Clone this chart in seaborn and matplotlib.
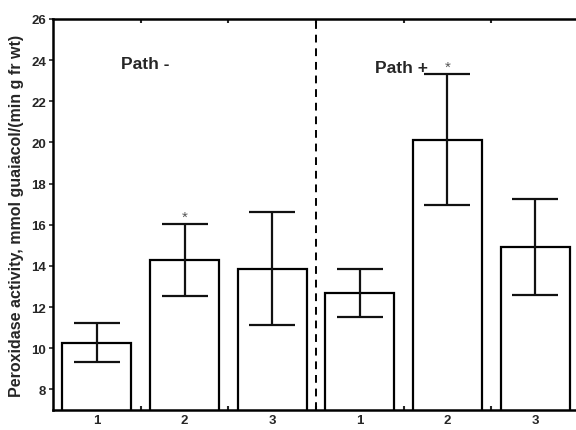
import numpy as np
import pandas as pd
import matplotlib
matplotlib.use("Agg")
import matplotlib.pyplot as plt
import seaborn as sns

# Data
groups = ["1", "2", "3", "1 ", "2 ", "3 "]
means = [10.28, 14.28, 13.85, 12.68, 20.12, 14.90]
err_low = [9.33, 12.55, 11.12, 11.52, 16.95, 12.60]
err_high = [11.22, 16.02, 16.62, 13.85, 23.32, 17.25]
tick_labels = ["1", "2", "3", "1", "2", "3"]
star_idx = [1, 4]

sns.set_style("white")
plt.rcParams["font.family"] = ["Liberation Sans", "DejaVu Sans"]

df = pd.DataFrame({"group": groups, "mean": means})

fig = plt.figure(figsize=(5.76, 4.31), dpi=100)
ax = fig.add_axes([53 / 576, 20 / 431, (579 - 53) / 576, (411 - 20) / 431])

sns.barplot(data=df, x="group", y="mean", order=groups, color="white",
            edgecolor="black", linewidth=1.6, width=0.79, errorbar=None, ax=ax)

x = np.arange(len(groups))
m = np.array(means)
yerr = np.vstack([m - np.array(err_low), np.array(err_high) - m])
ax.errorbar(x, m, yerr=yerr, fmt="none", ecolor="#111111", elinewidth=1.6,
            capsize=16.5, capthick=1.6)

for i in star_idx:
    ax.text(x[i], err_high[i] + 0.02, "*", ha="center", va="bottom",
            fontsize=11, color="#555555")

ax.axvline(2.5, color="black", linestyle=(0, (4, 3)), linewidth=1.4)

ax.text(0.55, 23.85, "Path -", ha="center", va="center", fontsize=12.5, fontweight="bold")
ax.text(3.48, 23.65, "Path +", ha="center", va="center", fontsize=12.5, fontweight="bold")

ax.set_xlim(-0.5, 5.5)
ax.set_ylim(7, 26)
ax.set_yticks(range(8, 27, 2))
ax.set_xticks(x)
ax.set_xticklabels(tick_labels, fontweight="bold", fontsize=9.5)
for lab in ax.get_yticklabels():
    lab.set_fontweight("bold")
    lab.set_fontsize(9.5)
ax.set_xticks(np.arange(0.5, 5.0, 1.0), minor=True)
ax.tick_params(axis="x", which="major", length=0, pad=3)
ax.tick_params(axis="x", which="minor", direction="in", length=3, width=1.5,
               top=True, bottom=True)
ax.tick_params(axis="y", which="major", direction="out", length=3, width=1.2, left=True, pad=2)

ax.set_xlabel("")
ax.set_ylabel("Peroxidase activity, mmol guaiacol/(min g fr wt)",
              fontsize=11.5, fontweight="bold", labelpad=5)

for side in ["left", "top", "bottom"]:
    ax.spines[side].set_linewidth(1.8)
    ax.spines[side].set_color("black")
ax.spines["right"].set_visible(False)

fig.savefig("out.png", dpi=100)
